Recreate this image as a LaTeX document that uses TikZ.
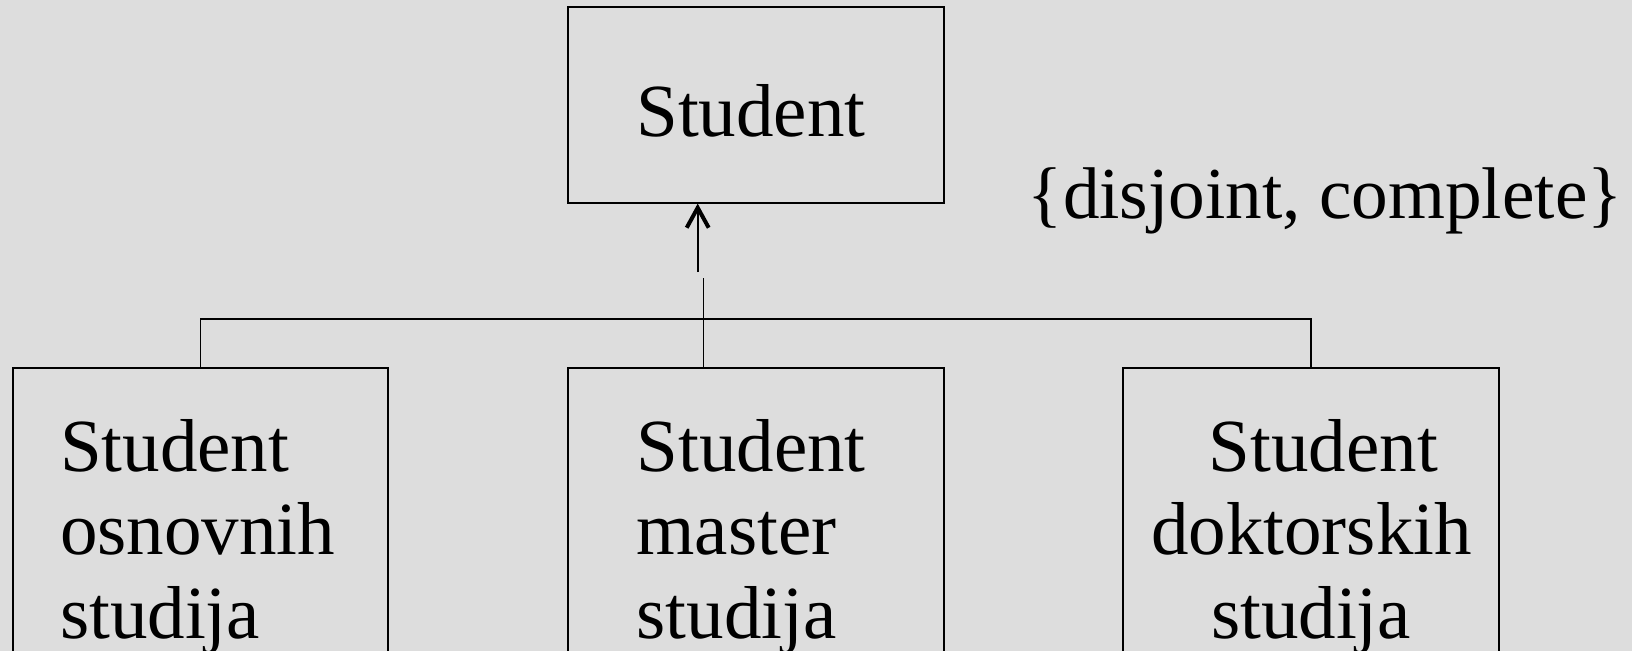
\documentclass[tikz,border=0pt]{standalone}
\usepackage{fontspec}
\setmainfont{Liberation Serif}
\usetikzlibrary{arrows.meta,positioning}
\definecolor{slide}{HTML}{DDDDDD}
\tikzset{
	box/.style={draw,rectangle,line width=1pt,inner ysep=0pt,font=\fontsize{37.5}{41.6}\selectfont},
	sub/.style={box,anchor=north,minimum height=168.4pt,inner xsep=#1},
	-gen/.style={-{Straight Barb[length=10pt,width=11pt,line width=2pt]}},
	link/.style={line width=0.8pt}
}
\begin{document}
\begin{tikzpicture}[x=1pt,y=-1pt]
			\path[use as bounding box,fill=slide] (0,0) rectangle (816,325.5);
			\clip (0,0) rectangle (816,325.5);
			\node[box,inner xsep=34.2pt,text width=119.6pt,align=left,minimum height=97.8pt,text height=31.8pt] (stu) at (377.95,52.4) {Student};
			\node[sub=23.5pt,text width=140.5pt,align=left] (osn) at (100.25,183.7) {Student\\osnovnih\\studija};
			\node[sub=34.2pt,text width=119.3pt,align=left] (mas) at (377.95,183.7) {Student\\master\\studija};
			\node[sub=14pt,text width=160pt,align=center] (dok) at (655.5,183.7) {~Student\\doktorskih\\studija};
			\node[anchor=base west,font=\fontsize{36.6}{41.6}\selectfont] (dc) at (510.4,109.1) {\{disjoint, complete\}};
			\coordinate (tail) at (348.85,136.1);
			\coordinate (join) at (351.65,138.9);
			\coordinate (bus) at (351.65,159.5);
			
			\draw[link,-gen] (tail) -- (tail |- stu.south);
			\draw[link] (mas.north -| join) -- (join);
			\draw[link] (osn.north) |- (bus) -| (dok.north);
		\end{tikzpicture}
\end{document}
